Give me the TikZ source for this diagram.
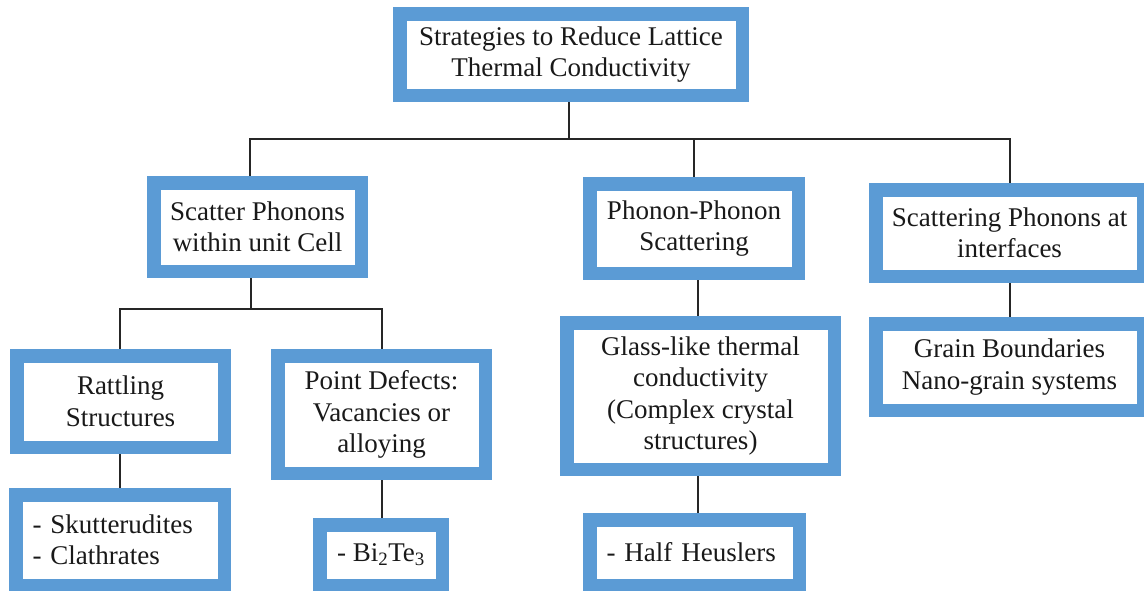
\documentclass[tikz,border=0pt]{standalone}
\usepackage{fontspec}
\setmainfont{Liberation Serif}
\usetikzlibrary{backgrounds}
\definecolor{frameblue}{HTML}{5B9BD5}
\begin{document}
\begin{tikzpicture}[x=1pt,y=-1pt,
  box/.style={draw=frameblue, line width=13.5pt, fill=white, rectangle, inner sep=0pt,
    align=center, font=\fontsize{27}{31.5}\selectfont, text=black!90},
  leftbox/.style={box, align=left, inner xsep=16.75pt},
  conn/.style={line width=1.5pt, draw=black!85}]
\useasboundingbox (0,0) rectangle (1144,590);
% level 0
\node[box, minimum width=342.5pt, minimum height=81.5pt] (top) at (571,54.5)
  {Strategies to Reduce Lattice\\Thermal Conductivity};
% level 1
\node[box, minimum width=207.5pt, minimum height=88.5pt] (scatter) at (257.5,227)
  {Scatter Phonons\\within unit Cell};
\node[box, minimum width=208.5pt, minimum height=89.5pt] (phonon) at (694,228.5)
  {Phonon-Phonon\\Scattering};
\node[box, minimum width=267.5pt, minimum height=86.5pt] (interfaces) at (1009.5,233)
  {Scattering Phonons at\\interfaces};
% level 2
\node[box, minimum width=207.5pt, minimum height=91.5pt] (rattling) at (120.5,401.5)
  {Rattling\\Structures};
\node[box, minimum width=207.5pt, minimum height=117.5pt] (point) at (381.5,414.5)
  {Point Defects:\\Vacancies or\\alloying};
\node[box, minimum width=267.5pt, minimum height=146.5pt] (glass) at (700.5,396)
  {Glass-like thermal\\conductivity\\(Complex crystal\\structures)};
\node[box, minimum width=267.5pt, minimum height=86.5pt] (grain) at (1009.5,367)
  {Grain Boundaries\\Nano-grain systems};
% level 3
\node[leftbox, text width=175pt, minimum height=90.5pt] (skut) at (120,540)
  {- Skutterudites\\- Clathrates};
\node[box, minimum width=122.5pt, minimum height=60.5pt] (bi) at (381,555)
  {- Bi\textsubscript{2}Te\textsubscript{3}};
\node[leftbox, text width=176pt, minimum height=65.5pt] (half) at (694.5,552.5)
  {- Half Heuslers};
% connectors
\begin{scope}[on background layer]
\coordinate (b1) at (569,139);
\coordinate (xL) at (250,0);
\coordinate (xM) at (694,0);
\coordinate (xR) at (1010,0);
\draw[conn] (b1 |- top.south) -- (b1);
\draw[conn] (xL |- scatter.north) -- (xL |- b1) -- (xR |- b1) -- (xR |- interfaces.north);
\draw[conn] (xM |- b1) -- (xM |- phonon.north);
\coordinate (b2) at (251,309);
\coordinate (xA) at (120,0);
\coordinate (xB) at (382,0);
\draw[conn] (b2 |- scatter.south) -- (b2);
\draw[conn] (xA |- rattling.north) -- (xA |- b2) -- (xB |- b2) -- (xB |- point.north);
\draw[conn] (xA |- rattling.south) -- (xA |- skut.north);
\draw[conn] (xB |- point.south) -- (xB |- bi.north);
\coordinate (xG) at (698,0);
\draw[conn] (xG |- phonon.south) -- (xG |- glass.north);
\draw[conn] (xG |- glass.south) -- (xG |- half.north);
\draw[conn] (xR |- interfaces.south) -- (xR |- grain.north);
\end{scope}
\end{tikzpicture}
\end{document}
